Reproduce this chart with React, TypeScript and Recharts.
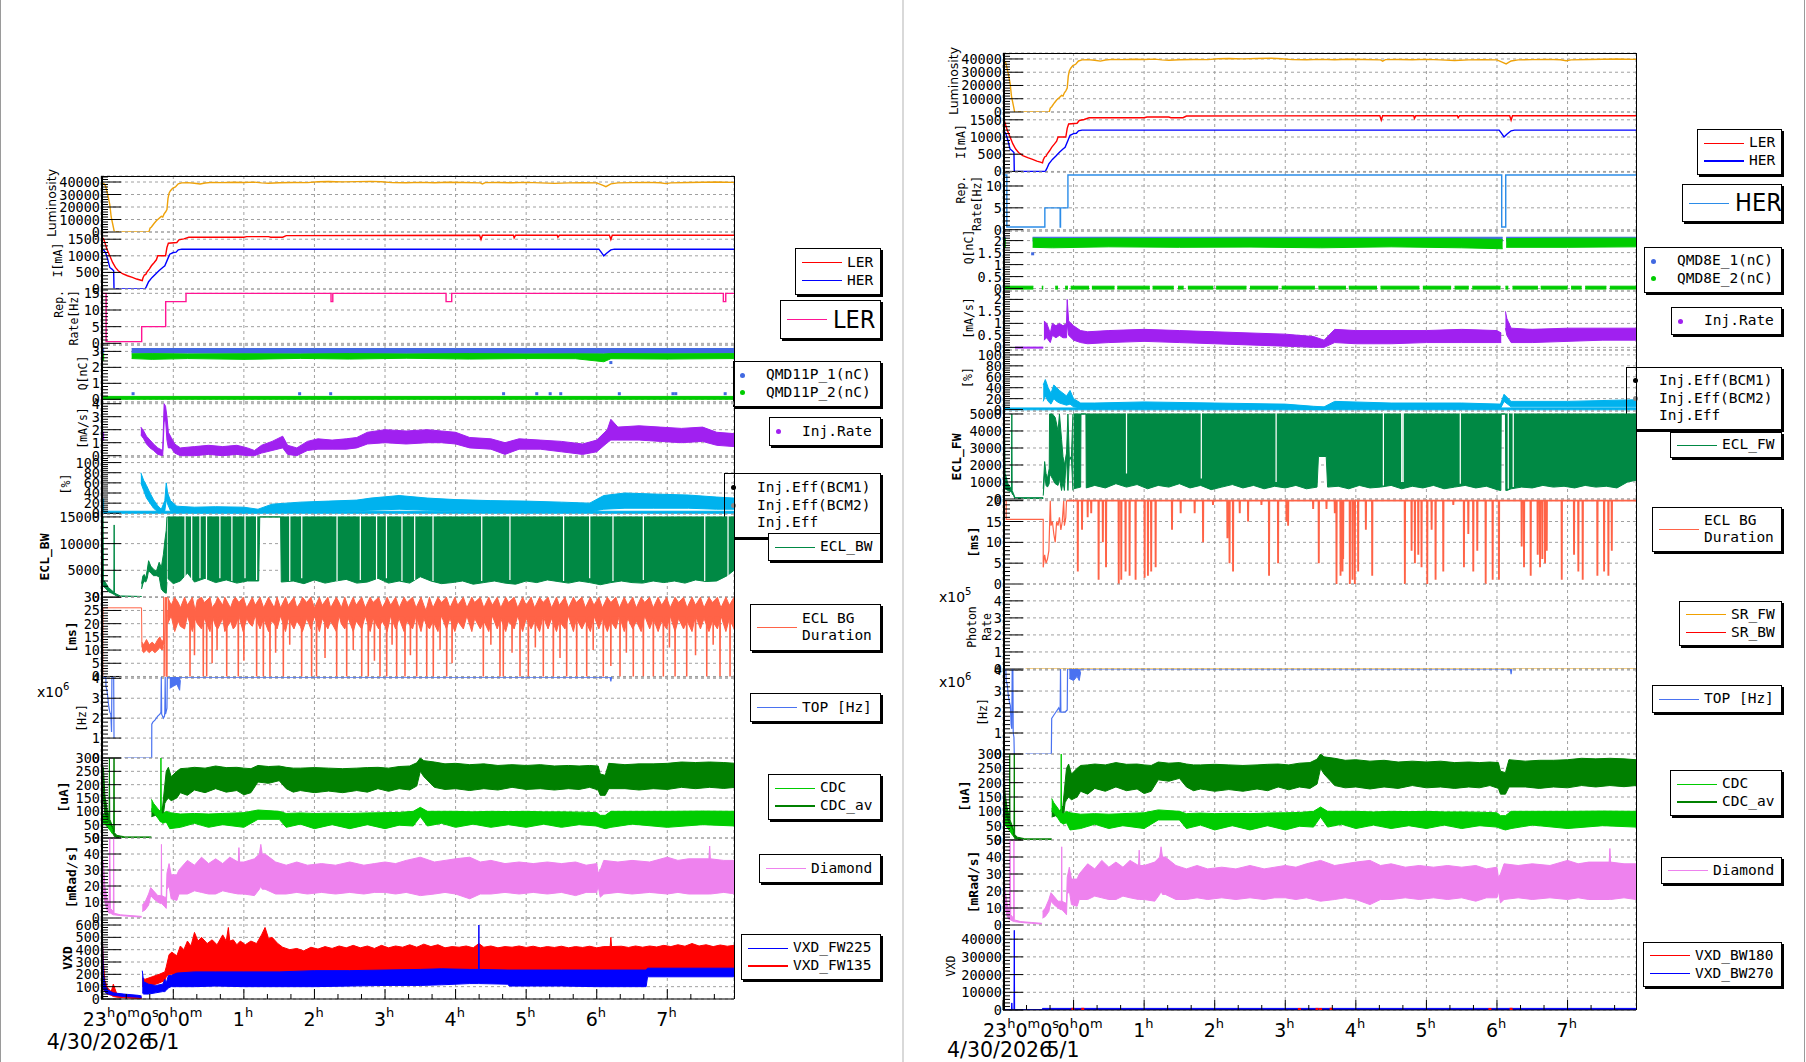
import React from "react";
import {
  ComposedChart,
  Line,
  Area,
  Scatter,
  XAxis,
  YAxis,
  CartesianGrid,
} from "recharts";

type Pt = [number, number];
type Band = [number, number, number];
type Span = [number, number];

// time is in hours relative to 5/1 00:00

// ---------- shared beam data
const lumi: Pt[] = [
  [-1.024, 39000], [-0.98, 38500], [-0.96, 37000], [-0.93, 30000], [-0.9, 22000],
  [-0.88, 12000], [-0.85, 4000], [-0.835, 0], [-0.345, 0], [-0.33, 3000],
  [-0.31, 4000], [-0.27, 7000], [-0.24, 9000], [-0.2, 11000], [-0.17, 12500],
  [-0.15, 12000], [-0.13, 14500], [-0.11, 16000], [-0.09, 18000], [-0.075, 27000],
  [-0.06, 31000], [-0.04, 33000], [-0.01, 35000], [0.03, 36000], [0.07, 38500],
  [0.12, 39300], [0.2, 39500], [0.3, 39000], [0.38, 38400], [0.45, 39200],
  [0.55, 39700], [0.7, 39500], [0.85, 39800], [1.0, 39600], [1.15, 39900],
  [1.25, 39300], [1.35, 39000], [1.5, 39400], [1.7, 39600], [1.9, 39500],
  [2.05, 40200], [2.2, 40400], [2.4, 40100], [2.6, 40300], [2.8, 40500],
  [2.95, 40200], [3.1, 39500], [3.3, 39400], [3.5, 39700], [3.7, 39400],
  [3.9, 39800], [4.1, 39600], [4.35, 39300], [4.38, 38400], [4.42, 39500],
  [4.6, 39600], [4.8, 39400], [5.0, 39700], [5.2, 39300], [5.4, 38900],
  [5.6, 39300], [5.8, 39500], [6.0, 39300], [6.08, 37500], [6.13, 36300],
  [6.2, 38500], [6.3, 39300], [6.5, 39500], [6.7, 39700], [6.9, 39400],
  [6.98, 38700], [7.05, 39300], [7.3, 39600], [7.5, 39800], [7.7, 40000], [7.97, 39700],
];

const lerCurrent: Pt[] = [
  [-1.024, 1550], [-0.99, 1520], [-0.97, 1400], [-0.94, 1200], [-0.9, 1000],
  [-0.86, 800], [-0.82, 650], [-0.78, 550], [-0.72, 460], [-0.65, 400],
  [-0.58, 350], [-0.52, 300], [-0.47, 270], [-0.44, 250], [-0.43, 330],
  [-0.41, 420], [-0.39, 440], [-0.37, 520], [-0.34, 600], [-0.31, 700],
  [-0.27, 800], [-0.24, 880], [-0.22, 1000], [-0.11, 1000], [-0.09, 1250],
  [-0.07, 1380], [0.05, 1400], [0.08, 1480], [0.15, 1510], [0.22, 1560],
  [1.0, 1560], [1.04, 1580], [1.35, 1580], [1.38, 1560], [1.55, 1560],
  [1.6, 1610], [4.34, 1620], [4.36, 1490], [4.38, 1620], [4.82, 1620],
  [4.83, 1540], [4.85, 1620], [5.44, 1620], [5.45, 1560], [5.47, 1620],
  [6.18, 1620], [6.2, 1490], [6.22, 1620], [7.97, 1620],
];

const herCurrent: Pt[] = [
  [-1.024, 1200], [-0.99, 1180], [-0.96, 1100], [-0.93, 900], [-0.9, 650],
  [-0.87, 600], [-0.845, 550], [-0.84, 0], [-0.4, 0], [-0.38, 80],
  [-0.35, 220], [-0.3, 350], [-0.25, 450], [-0.2, 560], [-0.15, 650],
  [-0.12, 700], [-0.08, 900], [-0.05, 1050], [0.0, 1100], [0.04, 1110],
  [0.07, 1180], [0.12, 1200], [6.03, 1200], [6.06, 1120], [6.1, 1000],
  [6.14, 1080], [6.2, 1180], [6.25, 1200], [7.97, 1200],
];

const lerRep: Pt[] = [
  [-1.024, 15], [-0.952, 0.5], [-0.448, 5], [-0.108, 12.5], [0.18, 15],
  [2.235, 12.5], [2.26, 15], [3.865, 12.5], [3.945, 15], [7.794, 12.5],
  [7.828, 15], [7.945, 15],
];

const herRep: Pt[] = [
  [-1.0, 12.5], [-0.946, 0.6], [-0.407, 5], [-0.19, 0.6], [-0.185, 5],
  [-0.08, 12.5], [6.067, 0.6], [6.124, 12.5], [7.97, 12.5],
];

// ---------- bunch charge
const qLerBlue: Band[][] = [
  [[-1.024, 2.9, 3.2], [-0.98, 2.9, 3.2]],
  [[-0.59, 2.9, 3.18], [2, 2.88, 3.18], [4, 2.88, 3.18], [6, 2.88, 3.18], [7.945, 2.9, 3.18]],
];
const qLerGreen: Band[][] = [
  [[-1.024, 2.45, 2.85], [-0.98, 2.45, 2.85]],
  [
    [-0.59, 2.55, 2.85], [-0.3, 2.5, 2.86], [0.2, 2.55, 2.84], [1.0, 2.5, 2.85],
    [1.8, 2.56, 2.84], [2.5, 2.52, 2.86], [3.3, 2.57, 2.84], [4.2, 2.52, 2.86],
    [5.0, 2.55, 2.84], [5.7, 2.54, 2.85], [6.1, 2.35, 2.84], [6.2, 2.54, 2.86],
    [7.0, 2.52, 2.85], [7.945, 2.55, 2.86],
  ],
  [[-1.024, 0, 0.18], [7.945, 0, 0.18]],
];
const qLerStray: Pt[] = [
  [-0.57, 0.35], [1.79, 0.35], [2.23, 0.35], [4.68, 0.35], [5.15, 0.35], [5.34, 0.35],
  [5.49, 0.35], [6.32, 0.35], [7.08, 0.35], [7.12, 0.35], [7.82, 0.35], [6.2, 2.3],
];

const qHerBlue: Band[][] = [
  [[-1.0, 1.95, 2.15], [-0.96, 1.95, 2.15]],
  [[-0.58, 1.98, 2.14], [6.08, 1.98, 2.14]],
  [[6.13, 1.98, 2.14], [7.97, 1.98, 2.14]],
];
const qHerGreen: Band[][] = [
  [[-1.0, 1.72, 2.08], [-0.96, 1.72, 2.08]],
  [
    [-0.58, 1.72, 2.1], [-0.3, 1.7, 2.08], [0.5, 1.74, 2.1], [1.5, 1.72, 2.08],
    [2.5, 1.73, 2.1], [3.5, 1.7, 2.08], [4.5, 1.74, 2.09], [5.5, 1.7, 2.08], [6.08, 1.66, 2.05],
  ],
  [[6.13, 1.72, 2.08], [7.0, 1.72, 2.1], [7.97, 1.74, 2.1]],
];
const qHerLowSpans: Span[] = [
  [-1.0, -0.57], [-0.45, -0.43], [-0.26, -0.22], [-0.12, -0.08], [-0.04, 0.22],
  [0.26, 0.58], [0.62, 1.08], [1.12, 1.42], [1.48, 1.56], [1.62, 1.98],
  [2.02, 2.45], [2.5, 2.9], [2.95, 3.42], [3.47, 3.86], [3.9, 4.3],
  [4.35, 4.9], [4.95, 5.35], [5.4, 5.6], [5.65, 6.05], [6.12, 6.16],
  [6.22, 6.58], [6.62, 7.0], [7.05, 7.2], [7.25, 7.55], [7.6, 7.97],
];
const qHerStray: Pt[] = [[-0.58, 1.45]];

// ---------- injection rate [mA/s]
const injLer: Band[][] = [
  [[-1.024, 1.2, 1.8], [-0.98, 1.2, 1.8]],
  [
    [-0.46, 1.6, 2.2], [-0.42, 1.3, 1.9], [-0.38, 0.9, 1.5], [-0.33, 0.6, 1.2],
    [-0.28, 0.4, 0.9], [-0.22, 0.1, 0.6], [-0.15, 0.0, 0.4], [-0.13, 2.6, 4.0],
    [-0.11, 2.8, 3.8], [-0.09, 1.2, 3.0], [-0.07, 0.6, 1.8], [-0.03, 0.6, 1.4],
    [0.02, 0.2, 0.9], [0.1, 0.0, 0.6], [0.3, 0.0, 0.7], [0.5, 0.1, 0.8],
    [0.7, 0.0, 0.7], [0.9, 0.1, 0.8], [1.05, 0.0, 0.6], [1.15, 0.0, 0.4],
    [1.25, 0.2, 0.8], [1.4, 0.4, 1.1], [1.55, 0.6, 1.5], [1.62, 0.1, 0.8],
    [1.75, 0.0, 0.6], [1.9, 0.4, 1.1], [2.05, 0.5, 1.3], [2.25, 0.5, 1.2],
    [2.45, 0.5, 1.3], [2.6, 0.6, 1.4], [2.75, 0.9, 1.8], [3.0, 1.0, 2.0],
    [3.3, 0.9, 1.9], [3.6, 1.0, 2.0], [3.8, 1.0, 1.9], [4.0, 0.9, 1.8],
    [4.2, 0.6, 1.4], [4.5, 0.5, 1.3], [4.7, 0.1, 1.0], [4.9, 0.5, 1.3],
    [5.2, 0.5, 1.2], [5.5, 0.3, 1.1], [5.8, 0.1, 0.9], [6.0, 0.3, 1.2],
    [6.15, 1.0, 2.0], [6.2, 1.2, 2.8], [6.3, 1.2, 2.2], [6.6, 1.2, 2.3],
    [6.9, 1.1, 2.2], [7.2, 1.0, 2.1], [7.5, 1.1, 2.2], [7.7, 0.8, 1.8], [7.945, 0.7, 1.7],
  ],
];

const injHer: Band[][] = [
  [[-1.0, 0.0, 0.35], [-0.97, 0.0, 0.35]],
  [[-0.83, -0.03, 0.01], [-0.43, -0.03, 0.01]],
  [
    [-0.42, 0.3, 1.1], [-0.38, 0.4, 1.0], [-0.33, 0.2, 0.6], [-0.3, 0.5, 1.0],
    [-0.25, 0.4, 0.9], [-0.2, 0.5, 1.0], [-0.15, 0.4, 0.9], [-0.1, 0.4, 1.0],
    [-0.09, 1.0, 2.0], [-0.07, 0.5, 1.1], [0.0, 0.3, 0.9], [0.1, 0.2, 0.7],
    [0.2, 0.15, 0.65], [0.5, 0.2, 0.7], [1.0, 0.25, 0.75], [1.5, 0.2, 0.7],
    [2.0, 0.15, 0.65], [2.5, 0.1, 0.6], [3.0, 0.05, 0.55], [3.4, 0.0, 0.45],
    [3.55, 0.0, 0.3], [3.7, 0.2, 0.75], [4.0, 0.15, 0.7], [4.5, 0.15, 0.7],
    [5.0, 0.2, 0.7], [5.5, 0.2, 0.75], [6.0, 0.2, 0.7], [6.06, 0.2, 0.6],
  ],
  [
    [6.12, 0.8, 1.5], [6.14, 0.5, 1.2], [6.2, 0.2, 0.8], [6.5, 0.2, 0.75],
    [7.0, 0.25, 0.8], [7.5, 0.3, 0.8], [7.97, 0.3, 0.8],
  ],
];

// ---------- injection efficiency [%]
const effLer: Band[][] = [
  [[-1.024, 0, 4], [7.945, 0, 4]],
  [[-1.024, 5, 28], [-0.98, 5, 28]],
  [
    [-0.46, 60, 80], [-0.42, 45, 65], [-0.38, 30, 55], [-0.33, 20, 40],
    [-0.28, 10, 27], [-0.22, 3, 15], [-0.17, 1, 8], [-0.12, 5, 25],
    [-0.1, 27, 60], [-0.08, 18, 40], [-0.04, 5, 25], [0.05, 3, 14],
    [0.3, 1, 12], [0.6, 1, 13], [1.0, 1, 12], [1.2, 1, 8],
    [1.4, 3, 18], [1.8, 4, 22], [2.2, 4, 24], [2.6, 5, 26],
    [2.8, 6, 30], [3.2, 8, 35], [3.6, 6, 30], [4.0, 5, 27],
    [4.5, 4, 25], [5.0, 4, 24], [5.5, 3, 22], [5.9, 3, 20],
    [6.1, 8, 35], [6.4, 10, 40], [6.8, 10, 38], [7.3, 10, 36],
    [7.7, 8, 32], [7.945, 8, 30],
  ],
];

const effHer: Band[][] = [
  [[-1.0, -0.5, 3], [7.97, -0.5, 3]],
  [[-1.0, 0, 10], [-0.97, 0, 10]],
  [
    [-0.43, 15, 45], [-0.4, 25, 55], [-0.36, 15, 40], [-0.32, 10, 30],
    [-0.28, 20, 45], [-0.24, 15, 40], [-0.2, 12, 35], [-0.15, 10, 30],
    [-0.1, 8, 25], [-0.05, 10, 35], [0.0, 5, 20], [0.1, 3, 12],
    [0.3, 2, 12], [1.0, 2, 14], [2.0, 2, 12], [3.0, 2, 10],
    [3.4, 0, 6], [3.55, 0, 5], [3.7, 3, 15], [4.5, 2, 12],
    [5.5, 2, 12], [6.05, 2, 10], [6.1, 15, 28], [6.2, 5, 15],
    [7.0, 5, 15], [7.97, 5, 18],
  ],
];

// ---------- ECL background
const eclBw: Band[][] = [
  [
    [-1.024, 3000, 15000], [-0.995, 2500, 15000], [-0.99, 2000, 3200], [-0.95, 1500, 2500],
    [-0.92, 1000, 1800], [-0.87, 700, 1200], [-0.842, 500, 900], [-0.838, 500, 13500],
    [-0.834, 400, 800], [-0.8, 200, 500], [-0.75, 0, 200], [-0.45, 0, 100],
  ],
  [
    [-0.45, 1500, 2500], [-0.43, 2500, 4000], [-0.41, 3000, 4200], [-0.39, 2800, 3500],
    [-0.37, 3500, 5000], [-0.35, 5000, 6800], [-0.32, 4500, 5800], [-0.28, 4000, 5200],
    [-0.24, 4000, 4800], [-0.2, 3800, 6500], [-0.17, 1500, 5500], [-0.14, 1000, 8000],
    [-0.12, 800, 10500], [-0.1, 700, 12500], [-0.09, 2800, 15000],
  ],
  [
    [-0.08, 3500, 15000], [0.0, 2500, 15000], [0.1, 3000, 15000], [0.2, 4500, 15000],
    [0.3, 2800, 15000], [0.45, 3500, 15000], [0.6, 2700, 15000], [0.75, 3200, 15000],
    [0.9, 2600, 15000], [1.05, 3000, 15000], [1.21, 3000, 15000], [1.225, 15000, 15000],
    [1.52, 15000, 15000], [1.53, 2800, 15000], [1.7, 3000, 15000], [1.85, 2500, 15000],
    [2.0, 3200, 15000], [2.15, 2600, 15000], [2.3, 3000, 15000], [2.45, 3300, 15000],
    [2.6, 2600, 15000], [2.75, 2800, 15000], [2.9, 3500, 15000], [3.05, 2600, 15000],
    [3.2, 3000, 15000], [3.35, 2600, 15000], [3.5, 3800, 15000], [3.65, 3000, 15000],
    [3.8, 2500, 15000], [3.95, 2700, 15000], [4.1, 3000, 15000], [4.25, 2400, 15000],
    [4.4, 2700, 15000], [4.55, 3000, 15000], [4.7, 2600, 15000], [4.85, 2400, 15000],
    [5.0, 3000, 15000], [5.15, 2700, 15000], [5.3, 3200, 15000], [5.45, 2900, 15000],
    [5.6, 2600, 15000], [5.75, 3000, 15000], [5.9, 2700, 15000], [6.05, 2300, 15000],
    [6.2, 2700, 15000], [6.35, 3000, 15000], [6.5, 2700, 15000], [6.65, 2600, 15000],
    [6.8, 3000, 15000], [6.95, 2700, 15000], [7.1, 3000, 15000], [7.25, 2600, 15000],
    [7.4, 3200, 15000], [7.55, 2900, 15000], [7.7, 3000, 15000], [7.85, 4000, 15000],
    [7.945, 5000, 15000],
  ],
];
const eclBwGaps: Pt[] = [
  [0.166, 3500], [0.26, 3000], [0.378, 3500], [0.47, 3000], [0.66, 3500],
  [0.83, 3000], [1.016, 3500], [1.18, 3200], [1.65, 3000], [1.82, 3500],
  [2.32, 3000], [2.65, 3200], [2.88, 3000], [3.02, 3500], [3.24, 3000],
  [3.42, 3200], [3.68, 3000], [4.37, 3000], [4.77, 3200], [5.53, 3000],
  [5.9, 3500], [6.23, 3000], [6.66, 3200], [7.53, 3000], [7.86, 3500],
];

const eclFw: Band[][] = [
  [
    [-1.0, 1000, 5000], [-0.98, 800, 5000], [-0.97, 600, 1500], [-0.93, 500, 900],
    [-0.9, 450, 700], [-0.88, 400, 600], [-0.875, 400, 5000], [-0.87, 300, 500],
    [-0.85, 200, 300], [-0.83, 0, 80], [-0.43, 0, 80],
  ],
  [
    [-0.43, 200, 600], [-0.41, 1500, 2200], [-0.39, 800, 1500], [-0.37, 700, 1200],
    [-0.345, 900, 1800], [-0.34, 1500, 5000], [-0.3, 1200, 5000], [-0.26, 900, 4800],
    [-0.22, 800, 4000], [-0.2, 1200, 5000], [-0.17, 500, 3500], [-0.15, 1000, 2500],
    [-0.13, 500, 2000], [-0.1, 2600, 2700], [-0.08, 500, 5000], [-0.06, 2300, 2400],
    [-0.03, 2400, 2500], [-0.01, 500, 5000],
  ],
  [
    [0.0, 600, 5000], [0.1, 700, 5000], [0.105, 5000, 5000], [0.175, 5000, 5000],
    [0.18, 650, 5000], [0.3, 800, 5000], [0.45, 650, 5000], [0.6, 900, 5000],
    [0.75, 700, 5000], [0.9, 850, 5000], [1.05, 600, 5000], [1.2, 800, 5000],
    [1.35, 700, 5000], [1.5, 900, 5000], [1.65, 650, 5000], [1.8, 800, 5000],
    [1.95, 550, 5000], [2.1, 700, 5000], [2.25, 850, 5000], [2.4, 650, 5000],
    [2.55, 800, 5000], [2.7, 600, 5000], [2.85, 750, 5000], [3.0, 650, 5000],
    [3.15, 800, 5000], [3.3, 600, 5000], [3.45, 700, 5000], [3.47, 2500, 5000],
    [3.58, 2500, 5000], [3.6, 700, 5000], [3.75, 750, 5000], [3.9, 600, 5000],
    [4.05, 800, 5000], [4.2, 650, 5000], [4.35, 700, 5000], [4.5, 800, 5000],
    [4.65, 600, 5000], [4.8, 750, 5000], [4.95, 650, 5000], [5.1, 800, 5000],
    [5.25, 600, 5000], [5.4, 700, 5000], [5.55, 800, 5000], [5.7, 650, 5000],
    [5.85, 750, 5000], [6.0, 550, 5000], [6.055, 500, 5000], [6.06, 5000, 5000],
    [6.12, 5000, 5000], [6.125, 500, 5000], [6.14, 500, 5000], [6.2, 600, 5000],
    [6.35, 700, 5000], [6.5, 650, 5000], [6.65, 800, 5000], [6.8, 700, 5000],
    [6.95, 750, 5000], [7.1, 650, 5000], [7.25, 800, 5000], [7.4, 700, 5000],
    [7.55, 750, 5000], [7.7, 650, 5000], [7.85, 1000, 5000], [7.97, 1100, 5000],
  ],
];
const eclFwGaps: Pt[] = [
  [0.75, 1500], [1.81, 1200], [2.87, 1000], [4.39, 800], [4.65, 1000],
  [4.67, 1000], [5.48, 900], [6.16, 600], [6.23, 700],
];

// ECL BG duration [ms]
const eclBgLerStart: Pt[] = [
  [-1.024, 20], [-1.015, 28], [-1.005, 18], [-1.0, 0], [-0.995, 26], [-0.45, 26], [-0.445, 11],
];
const eclBgLerPre: Band[] = [
  [-0.445, 10, 13], [-0.42, 9, 12], [-0.38, 10, 14], [-0.34, 9, 12], [-0.3, 10, 13],
  [-0.26, 9, 12], [-0.22, 10, 14], [-0.19, 11, 15], [-0.16, 10, 13], [-0.14, 11, 14],
];
const eclBgLerSpikes: Pt[] = [
  [-0.14, 12], [-0.135, 30], [-0.13, 0], [-0.125, 12], [-0.11, 30], [-0.1, 0],
  [-0.095, 30], [-0.09, 0], [-0.085, 25],
];
const eclBgLerMain: Band[] = [
  [-0.08, 20, 30], [-0.03, 23, 27], [0.02, 17, 30], [0.07, 21, 28], [0.1, 19, 26],
  [0.16, 18, 30], [0.2, 23, 27], [0.27, 17, 30], [0.31, 22, 25], [0.34, 20, 29],
  [0.4, 18, 30], [0.44, 22, 28], [0.52, 17, 30], [0.55, 23, 26], [0.6, 19, 28],
  [0.63, 18, 30], [0.7, 22, 27], [0.73, 17, 30], [0.81, 21, 26], [0.85, 18, 29],
  [0.88, 19, 30], [0.93, 23, 28], [0.99, 17, 30], [1.04, 22, 26], [1.08, 20, 28],
  [1.12, 19, 30], [1.16, 23, 27], [1.23, 18, 30], [1.28, 22, 26], [1.35, 17, 30],
  [1.39, 21, 28], [1.43, 20, 26], [1.47, 18, 30], [1.52, 23, 26], [1.59, 17, 30],
  [1.63, 22, 27], [1.71, 18, 30], [1.75, 21, 26], [1.8, 19, 28], [1.83, 17, 30],
  [1.89, 22, 28], [1.95, 18, 30], [2.0, 23, 26], [2.07, 17, 30], [2.11, 22, 27],
  [2.19, 18, 30], [2.23, 21, 26], [2.31, 17, 30], [2.35, 23, 28], [2.38, 20, 26],
  [2.43, 18, 30], [2.48, 22, 26], [2.55, 17, 30], [2.59, 21, 27], [2.67, 18, 30],
  [2.72, 23, 26], [2.79, 17, 30], [2.83, 22, 28], [2.91, 18, 30], [2.96, 21, 26],
  [3.0, 19, 28], [3.03, 17, 30], [3.08, 23, 27], [3.15, 18, 30], [3.2, 22, 26],
  [3.27, 17, 30], [3.31, 21, 28], [3.39, 18, 30], [3.44, 23, 26], [3.51, 17, 30],
  [3.55, 22, 27], [3.58, 20, 25], [3.63, 18, 30], [3.68, 21, 26], [3.75, 17, 30],
  [3.8, 23, 28], [3.87, 18, 30], [3.92, 22, 26], [3.99, 17, 30], [4.03, 21, 27],
  [4.11, 18, 30], [4.16, 23, 26], [4.23, 17, 30], [4.27, 22, 28], [4.35, 18, 30],
  [4.4, 21, 26], [4.47, 17, 30], [4.52, 23, 27], [4.59, 18, 30], [4.64, 22, 26],
  [4.71, 17, 30], [4.75, 21, 28], [4.83, 18, 30], [4.88, 23, 26], [4.95, 17, 30],
  [5.0, 22, 27], [5.07, 18, 30], [5.12, 21, 26], [5.19, 17, 30], [5.24, 23, 28],
  [5.31, 18, 30], [5.36, 22, 26], [5.43, 17, 30], [5.47, 21, 27], [5.55, 18, 30],
  [5.6, 23, 26], [5.67, 17, 30], [5.71, 22, 28], [5.79, 18, 30], [5.84, 21, 26],
  [5.91, 17, 30], [5.96, 23, 27], [6.03, 18, 30], [6.08, 22, 26], [6.15, 17, 30],
  [6.2, 21, 28], [6.27, 18, 30], [6.32, 23, 26], [6.39, 17, 30], [6.44, 22, 27],
  [6.51, 18, 30], [6.56, 21, 26], [6.63, 17, 30], [6.68, 23, 28], [6.75, 18, 30],
  [6.8, 22, 26], [6.87, 17, 30], [6.92, 21, 27], [6.99, 18, 30], [7.04, 23, 26],
  [7.11, 17, 30], [7.16, 22, 28], [7.23, 18, 30], [7.28, 21, 26], [7.35, 17, 30],
  [7.4, 23, 27], [7.47, 18, 30], [7.52, 22, 26], [7.59, 17, 30], [7.64, 21, 28],
  [7.71, 18, 30], [7.76, 23, 26], [7.83, 17, 30], [7.88, 22, 27], [7.945, 18, 30],
];
const eclBgLerDips: Pt[] = [
  [0.237, 0], [0.3, 8], [0.425, 0], [0.473, 0], [0.55, 5], [0.62, 10], [0.757, 0],
  [0.921, 0], [1.0, 6], [1.181, 0], [1.276, 0], [1.37, 0], [1.45, 9], [1.559, 0],
  [1.65, 12], [1.819, 0], [1.96, 0], [2.03, 0], [2.15, 7], [2.315, 0], [2.457, 0],
  [2.55, 10], [2.67, 0], [2.763, 0], [2.85, 6], [2.929, 0], [3.024, 0], [3.1, 12],
  [3.165, 0], [3.283, 0], [3.36, 8], [3.449, 0], [3.591, 0], [3.684, 0], [3.78, 10],
  [3.874, 0], [3.95, 5], [4.393, 0], [4.5, 12], [4.629, 0], [4.676, 0], [4.8, 9],
  [4.913, 0], [5.031, 0], [5.13, 11], [5.243, 0], [5.385, 0], [5.48, 7], [5.574, 0],
  [5.716, 0], [5.858, 0], [5.95, 10], [6.093, 0], [6.2, 4], [6.33, 0], [6.42, 9],
  [6.518, 0], [6.66, 0], [6.802, 0], [6.944, 0], [7.03, 11], [7.11, 0], [7.275, 0],
  [7.4, 8], [7.559, 0], [7.65, 12], [7.747, 0], [7.889, 0],
];

const eclBgHerStart: Pt[] = [
  [-1.0, 20], [-0.955, 20], [-0.955, 15.5], [-0.43, 15.5], [-0.43, 4], [-0.41, 7],
  [-0.39, 5], [-0.37, 6], [-0.35, 8], [-0.33, 20], [-0.32, 14], [-0.3, 15],
  [-0.28, 12], [-0.26, 10], [-0.24, 15], [-0.22, 14], [-0.2, 16], [-0.18, 13],
  [-0.16, 15], [-0.14, 20], [-0.13, 14], [-0.11, 16], [-0.1, 20],
];
const eclBgHerDips: Pt[] = [
  [0.06, 3], [0.12, 13], [0.2, 16], [0.25, 17], [0.355, 1], [0.415, 10], [0.46, 4],
  [0.64, 0], [0.676, 1], [0.737, 3], [0.794, 2], [0.879, 1], [1.007, 1.5], [1.054, 2],
  [1.1, 3], [1.163, 4], [1.395, 13], [1.518, 17], [1.716, 17], [1.835, 10], [1.976, 19],
  [2.18, 11], [2.21, 5], [2.26, 3], [2.355, 17], [2.473, 15], [2.662, 19], [2.77, 2],
  [2.898, 5], [3.017, 15], [3.04, 14], [3.395, 18], [3.475, 5], [3.584, 18], [3.702, 17],
  [3.726, 0], [3.783, 2], [3.811, 3], [3.82, 6], [3.915, 0], [3.953, 1], [3.986, 0],
  [4.033, 3], [4.142, 13], [4.232, 2], [4.695, 0], [4.79, 8], [4.837, 5], [4.885, 7],
  [4.931, 4], [5.012, 0], [5.074, 13], [5.13, 1], [5.239, 3], [5.381, 19], [5.532, 4],
  [5.594, 12], [5.664, 3], [5.721, 8], [5.84, 0], [5.939, 1], [6.028, 1], [6.35, 9],
  [6.383, 4], [6.478, 2], [6.577, 7], [6.61, 4], [6.643, 6], [6.681, 5], [6.705, 8],
  [6.918, 1], [7.092, 7], [7.153, 3], [7.215, 1], [7.423, 2], [7.518, 3], [7.579, 2],
  [7.627, 8],
];

// synchrotron radiation photon rate (x1e5)
const srFw: Pt[] = [[-0.68, 0], [7.97, 0]];

// ---------- TOP rate (x1e6 Hz)
const topLer: Pt[][] = [
  [
    [-1.024, 4.06], [-0.955, 4.06], [-0.955, 3.6], [-0.94, 3.4], [-0.93, 3.1],
    [-0.915, 2.6], [-0.9, 2.3], [-0.885, 2.2], [-0.875, 1.3], [-0.87, 4.06],
    [-0.845, 4.06], [-0.84, 1.0],
  ],
  [
    [-0.694, 0], [-0.306, 0], [-0.305, 1.7], [-0.29, 1.8], [-0.26, 1.9], [-0.22, 2.1],
    [-0.19, 2.2], [-0.175, 2.3], [-0.17, 4.06], [-0.165, 2.2], [-0.14, 2.0],
    [-0.125, 2.1], [-0.12, 2.3], [-0.115, 4.06], [-0.11, 2.2], [-0.09, 2.5],
    [-0.085, 4.06], [6.19, 4.06], [6.2, 3.85], [6.21, 4.06], [6.22, 4.06],
  ],
];
const topLerBlob: Band[] = [
  [-0.05, 3.5, 4.06], [0.0, 3.6, 4.06], [0.05, 3.7, 4.06], [0.09, 3.4, 4.0], [0.1, 3.9, 4.06],
];
const topHer: Pt[][] = [
  [
    [-1.0, 4.05], [-0.96, 4.05], [-0.955, 3.5], [-0.94, 3.3], [-0.925, 2.8],
    [-0.91, 2.5], [-0.895, 2.3], [-0.885, 1.4], [-0.875, 1.2], [-0.87, 4.05],
    [-0.86, 4.05], [-0.855, 1.0], [-0.845, 0.8], [-0.84, 0],
  ],
  [
    [-0.68, 0], [-0.315, 0], [-0.31, 1.7], [-0.29, 1.8], [-0.25, 2.0], [-0.21, 2.2],
    [-0.19, 2.0], [-0.185, 4.05], [-0.18, 2.0], [-0.12, 2.0], [-0.09, 2.1],
    [-0.085, 4.05], [6.19, 4.05], [6.2, 3.8], [6.21, 4.05],
  ],
];
const topHerBlob: Band[] = [
  [-0.06, 3.6, 4.05], [0.0, 3.5, 4.05], [0.05, 3.7, 4.05], [0.08, 3.5, 4.0], [0.1, 3.9, 4.05],
];

// ---------- CDC current [uA]
const cdcAv: Band[][] = [
  [
    [-1.024, 200, 270], [-0.99, 150, 265], [-0.97, 90, 160], [-0.94, 60, 110],
    [-0.91, 45, 80], [-0.905, 45, 300], [-0.9, 40, 70], [-0.87, 25, 50],
    [-0.845, 10, 30], [-0.84, 10, 300], [-0.835, 5, 20], [-0.8, 3, 10], [-0.7, 2, 5],
  ],
  [[-0.7, 2, 4], [-0.31, 2, 4]],
  [
    [-0.31, 80, 110], [-0.25, 85, 105], [-0.2, 80, 100], [-0.17, 60, 110],
    [-0.15, 70, 120], [-0.12, 130, 200], [-0.1, 140, 250], [-0.07, 150, 265],
    [-0.03, 140, 230], [0.05, 150, 250], [0.1, 170, 260], [0.2, 160, 262],
    [0.3, 180, 265], [0.45, 170, 262], [0.6, 185, 270], [0.75, 172, 264],
    [0.9, 178, 265], [1.0, 162, 262], [1.1, 170, 260], [1.2, 210, 272],
    [1.35, 205, 268], [1.5, 215, 270], [1.6, 185, 265], [1.7, 172, 262],
    [1.8, 178, 262], [2.0, 170, 264], [2.2, 176, 262], [2.4, 170, 260],
    [2.6, 178, 262], [2.75, 172, 264], [2.9, 185, 265], [3.05, 175, 262],
    [3.2, 185, 268], [3.35, 180, 270], [3.45, 195, 282], [3.5, 250, 300],
    [3.55, 230, 290], [3.7, 190, 285], [3.85, 182, 278], [4.0, 185, 280],
    [4.2, 178, 275], [4.4, 185, 278], [4.6, 180, 272], [4.8, 190, 275],
    [5.0, 182, 272], [5.2, 185, 275], [5.4, 180, 270], [5.6, 185, 272],
    [5.75, 182, 270], [5.9, 190, 272], [6.02, 180, 270], [6.05, 160, 240],
    [6.12, 160, 235], [6.17, 185, 280], [6.4, 185, 275], [6.6, 180, 278],
    [6.8, 185, 278], [7.0, 182, 280], [7.2, 190, 285], [7.4, 185, 283],
    [7.6, 190, 285], [7.8, 186, 283], [7.97, 190, 280],
  ],
];
const cdc: Band[][] = [
  [
    [-1.024, 60, 95], [-0.99, 55, 90], [-0.96, 50, 80], [-0.93, 40, 60],
    [-0.9, 30, 50], [-0.86, 15, 30],
  ],
  [
    [-0.31, 100, 145], [-0.28, 95, 130], [-0.22, 75, 110], [-0.18, 60, 95],
    [-0.175, 60, 300], [-0.17, 60, 95], [-0.15, 55, 90], [-0.1, 60, 100],
    [-0.05, 35, 95], [0.1, 40, 90], [0.3, 55, 92], [0.5, 40, 90],
    [0.7, 50, 92], [1.0, 40, 95], [1.2, 70, 105], [1.5, 70, 100],
    [1.6, 40, 92], [1.8, 52, 94], [2.0, 35, 92], [2.25, 50, 93],
    [2.5, 35, 92], [2.75, 50, 94], [3.0, 35, 95], [3.2, 48, 96],
    [3.4, 45, 100], [3.5, 80, 115], [3.6, 45, 100], [3.8, 55, 100],
    [4.0, 40, 100], [4.25, 52, 98], [4.5, 40, 100], [4.75, 50, 99],
    [5.0, 40, 100], [5.25, 52, 98], [5.5, 40, 98], [5.75, 50, 97],
    [6.0, 45, 95], [6.05, 40, 85], [6.12, 35, 85], [6.2, 40, 100],
    [6.5, 52, 100], [7.0, 40, 100], [7.5, 50, 101], [7.97, 45, 100],
  ],
];

// ---------- diamond dose rate [mRad/s]
const diamond: Band[][] = [
  [
    [-1.024, 18, 38], [-0.99, 15, 35], [-0.97, 10, 20], [-0.94, 5, 12],
    [-0.91, 3, 8], [-0.9, 3, 50], [-0.89, 3, 6], [-0.85, 2, 4],
    [-0.845, 2, 50], [-0.84, 2, 3], [-0.75, 1.5, 2], [-0.6, 1, 1.5], [-0.45, 0.5, 1],
  ],
  [
    [-0.44, 4, 8], [-0.4, 5, 10], [-0.35, 8, 15], [-0.32, 14, 19],
    [-0.28, 12, 17], [-0.22, 10, 14], [-0.18, 9, 14], [-0.172, 9, 14], [-0.168, 9, 46],
    [-0.164, 9, 14], [-0.12, 7, 13], [-0.1, 6, 13], [-0.09, 18, 28],
    [-0.06, 20, 34], [-0.03, 12, 27], [0.05, 11, 27], [0.08, 15, 30],
    [0.2, 15, 36], [0.3, 17, 33], [0.4, 16, 38], [0.5, 15, 34], [0.6, 15, 37],
    [0.7, 17, 34], [0.8, 16, 38], [0.92, 15, 35], [0.93, 15, 44], [0.94, 15, 35],
    [1.0, 15, 35], [1.15, 14, 37], [1.22, 18, 40], [1.24, 20, 46], [1.26, 18, 40],
    [1.3, 18, 40], [1.45, 15, 35], [1.6, 15, 33], [1.75, 16, 35],
    [1.9, 15, 33], [2.1, 16, 34], [2.3, 15, 33], [2.5, 16, 35], [2.7, 15, 33],
    [2.85, 16, 34], [3.0, 16, 35], [3.15, 15, 34], [3.3, 16, 36], [3.5, 14, 38],
    [3.7, 15, 35], [3.85, 16, 36], [4.0, 15, 37], [4.2, 12, 38], [4.35, 15, 35],
    [4.5, 15, 36], [4.7, 16, 34], [4.9, 15, 35], [5.1, 16, 34], [5.3, 15, 35],
    [5.5, 16, 34], [5.7, 14, 35], [5.85, 16, 33], [6.0, 16, 34], [6.02, 20, 28],
    [6.05, 13, 30], [6.1, 15, 36], [6.3, 16, 35], [6.5, 15, 36], [6.75, 16, 35],
    [7.0, 15, 38], [7.15, 16, 36], [7.3, 15, 37], [7.59, 15, 37], [7.6, 15, 45],
    [7.61, 15, 37], [7.8, 16, 36], [7.97, 15, 36],
  ],
];

// ---------- VXD dose
const vxdFw135: Band[][] = [
  [
    [-1.024, 150, 450], [-1.01, 100, 550], [-0.99, 80, 300], [-0.97, 60, 150],
    [-0.93, 40, 90], [-0.88, 30, 60], [-0.85, 20, 120], [-0.8, 15, 40],
    [-0.7, 10, 25], [-0.5, 5, 15], [-0.45, 5, 15],
  ],
  [
    [-0.44, 100, 170], [-0.4, 100, 160], [-0.3, 110, 180], [-0.2, 130, 200],
    [-0.12, 150, 220], [-0.1, 180, 260], [-0.06, 200, 360], [-0.02, 200, 380],
    [0.05, 200, 350], [0.1, 200, 430], [0.15, 200, 400], [0.2, 200, 470],
    [0.25, 200, 430], [0.3, 200, 540], [0.35, 200, 470], [0.4, 200, 500],
    [0.48, 200, 450], [0.55, 200, 480], [0.62, 200, 440], [0.7, 200, 520],
    [0.75, 200, 470], [0.78, 200, 580], [0.8, 200, 470], [0.85, 200, 480],
    [0.9, 200, 440], [0.95, 200, 470], [1.02, 200, 440], [1.1, 200, 470],
    [1.18, 200, 450], [1.25, 200, 520], [1.3, 200, 580], [1.35, 200, 490],
    [1.4, 200, 500], [1.48, 200, 450], [1.55, 200, 420], [1.65, 200, 400],
    [1.75, 200, 410], [1.85, 200, 390], [1.95, 200, 420], [2.05, 200, 405],
    [2.15, 200, 425], [2.25, 200, 410], [2.35, 200, 430], [2.45, 200, 415],
    [2.55, 200, 435], [2.65, 200, 415], [2.75, 200, 430], [2.85, 200, 410],
    [2.95, 200, 435], [3.05, 200, 415], [3.15, 200, 430], [3.25, 200, 420],
    [3.35, 200, 440], [3.45, 200, 420], [3.55, 200, 445], [3.65, 200, 425],
    [3.75, 200, 440], [3.85, 200, 415], [3.95, 200, 425], [4.05, 200, 420],
    [4.15, 200, 430], [4.25, 200, 415], [4.33, 200, 450], [4.4, 200, 420],
    [4.5, 200, 430], [4.6, 200, 415], [4.7, 200, 425], [4.8, 200, 420],
    [4.9, 200, 430], [5.0, 200, 418], [5.1, 200, 428], [5.2, 200, 415],
    [5.3, 200, 425], [5.4, 200, 418], [5.5, 200, 428], [5.6, 200, 415],
    [5.7, 200, 425], [5.8, 200, 418], [5.9, 200, 428], [6.0, 200, 415],
    [6.1, 200, 425], [6.19, 200, 425], [6.2, 200, 500], [6.21, 200, 425],
    [6.35, 200, 428], [6.45, 200, 418], [6.55, 200, 430], [6.65, 200, 420],
    [6.75, 200, 430], [6.85, 200, 422], [6.95, 200, 435], [7.05, 200, 425],
    [7.15, 200, 440], [7.25, 200, 428], [7.35, 200, 450], [7.45, 200, 430],
    [7.55, 200, 440], [7.65, 200, 425], [7.75, 200, 438], [7.85, 200, 428],
    [7.945, 200, 435],
  ],
];
const vxdFw225: Band[][] = [
  [
    [-1.024, 150, 200], [-1.01, 100, 600], [-0.99, 80, 200], [-0.96, 50, 100],
    [-0.92, 40, 70], [-0.85, 30, 50], [-0.7, 20, 40], [-0.5, 15, 30], [-0.45, 10, 25],
  ],
  [
    [-0.44, 50, 230], [-0.42, 40, 140], [-0.35, 40, 120], [-0.25, 50, 110],
    [-0.15, 60, 120], [-0.12, 60, 160], [-0.1, 70, 130], [-0.07, 90, 190],
    [-0.03, 100, 190], [0.05, 100, 210], [0.3, 100, 220], [0.6, 105, 220],
    [1.0, 100, 220], [1.5, 100, 220], [2.0, 100, 230], [2.5, 105, 230],
    [3.0, 110, 235], [3.5, 110, 240], [3.8, 115, 245], [4.2, 125, 240],
    [4.325, 125, 240], [4.33, 125, 600], [4.335, 125, 240], [4.74, 120, 235],
    [4.76, 105, 235], [5.5, 105, 235], [6.0, 100, 235], [6.7, 100, 235],
    [6.72, 180, 250], [7.945, 180, 250],
  ],
];
const vxdBw270: Band[] = [
  [-1.0, 0, 200], [-0.88, 0, 200], [-0.875, 0, 4000], [-0.87, 0, 200],
  [-0.845, 0, 200], [-0.84, 0, 45000], [-0.835, 0, 200], [-0.45, 0, 200],
  [-0.44, 0, 900], [7.97, 0, 900],
];
const vxdBw180: Pt[] = [
  [-0.01, 400], [0.13, 400], [3.2, 300], [3.45, 350], [3.5, 300], [3.65, 400],
  [5.9, 300], [6.2, 400],
];

// ---------- axis ticks and labels
const HOURS = [-1, 0, 1, 2, 3, 4, 5, 6, 7];
const HOUR_PARTS: Record<number, [string, string][]> = {
  [-1]: [["23", "h"], ["0", "m"], ["0", "s"]],
  [0]: [["0", "h"], ["0", "m"]],
};
const DATE_LABELS: Record<number, string> = { [-1]: "4/30/2026", [0]: "5/1" };

const COLOR = {
  lumi: "#eea20a",
  ler: "#ff0000",
  her: "#0000ff",
  repLer: "#ff1493",
  repHer: "#2b8ce8",
  qBlue: "#4169e1",
  qGreen: "#00cc00",
  inj: "#a020f0",
  eff: "#00b2ee",
  ecl: "#008944",
  eclBg: "#ff6347",
  top: "#4a72f0",
  cdc: "#00cc00",
  cdcAv: "#008000",
  diamond: "#ee82ee",
  srFw: "#f0a000",
  srBw: "#ff0000",
};

const MONO = "'DejaVu Sans Mono', monospace";
const SANS = "'DejaVu Sans', sans-serif";

type Series =
  | { kind: "line"; data: Pt[]; color: string; width?: number; step?: boolean }
  | { kind: "band"; data: Band[]; color: string }
  | { kind: "dots"; data: Pt[]; color: string; size?: number };

interface PanelSpec {
  top: number;
  bottom: number;
  domain: [number, number];
  major: number[];
  minor: number;
  dashedBase?: boolean;
  series: Series[];
}

interface ColumnSpec {
  left: number;
  plotLeft: number;
  plotRight: number;
  domain: [number, number];
  dateDy: number;
}

interface LegendItem {
  text: string[];
  color: string;
  mark: "line" | "dot" | "none";
}
interface LegendSpec {
  x: number;
  y: number;
  w: number;
  h: number;
  items: LegendItem[];
  big?: boolean;
  clear?: boolean;
}

// helpers that turn the lists above into drawable point sets
const bands = (segs: Band[][], color: string): Series[] =>
  segs.map((data) => ({ kind: "band", data, color }));

const spanBands = (spans: Span[], lo: number, hi: number): Band[][] =>
  spans.map(([a, b]) => [[a, lo, hi], [b, lo, hi]]);

const dipLine = (base: number, dips: Pt[], from: number, to: number): Pt[] => {
  const out: Pt[] = [[from, base]];
  dips.forEach(([t, v]) => {
    out.push([t - 0.003, base], [t, v], [t + 0.003, base]);
  });
  out.push([to, base]);
  return out;
};

const gapLine = (above: number, gaps: Pt[]): Pt[] => {
  const out: Pt[] = [];
  gaps.forEach(([t, v]) => {
    out.push([t, above], [t, v], [t + 0.001, above]);
  });
  return out;
};

// ---------- panel layouts
const LEFT_COL: ColumnSpec = { left: 0, plotLeft: 101, plotRight: 734, domain: [-1.0245, 7.945], dateDy: 50 };
const RIGHT_COL: ColumnSpec = { left: 902, plotLeft: 1003, plotRight: 1636, domain: [-1.0, 7.97], dateDy: 47 };

const leftPanels: PanelSpec[] = [
  {
    top: 176, bottom: 232, domain: [0, 44800], major: [0, 10000, 20000, 30000, 40000], minor: 2000,
    dashedBase: true, series: [{ kind: "line", data: lumi, color: COLOR.lumi }],
  },
  {
    top: 232, bottom: 289, domain: [0, 1718], major: [0, 500, 1000, 1500], minor: 100, dashedBase: true,
    series: [
      { kind: "line", data: lerCurrent, color: COLOR.ler },
      { kind: "line", data: herCurrent, color: COLOR.her },
    ],
  },
  {
    top: 289, bottom: 345, domain: [-0.5, 16.3], major: [0, 5, 10, 15], minor: 1,
    series: [{ kind: "line", data: lerRep, color: COLOR.repLer, step: true }],
  },
  {
    top: 345, bottom: 402, domain: [-0.17, 3.4], major: [0, 1, 2, 3], minor: 0.2,
    series: [
      ...bands(qLerBlue, COLOR.qBlue),
      ...bands(qLerGreen, COLOR.qGreen),
      { kind: "dots", data: qLerStray, color: COLOR.qBlue },
    ],
  },
  {
    top: 402, bottom: 457, domain: [-0.1, 4.13], major: [0, 1, 2, 3, 4], minor: 0.2,
    series: bands(injLer, COLOR.inj),
  },
  {
    top: 457, bottom: 514, domain: [-1.4, 111], major: [0, 20, 40, 60, 80, 100], minor: 4,
    series: bands(effLer, COLOR.eff),
  },
  {
    top: 514, bottom: 597, domain: [0, 15550], major: [0, 5000, 10000, 15000], minor: 1000,
    series: [
      ...bands(eclBw, COLOR.ecl),
      { kind: "line", data: gapLine(17000, eclBwGaps), color: "#fff", width: 1.2 },
    ],
  },
  {
    top: 597, bottom: 677, domain: [-0.2, 30.1], major: [0, 5, 10, 15, 20, 25, 30], minor: 1,
    series: [
      { kind: "line", data: eclBgLerStart, color: COLOR.eclBg, width: 1 },
      { kind: "band", data: eclBgLerPre, color: COLOR.eclBg },
      { kind: "line", data: eclBgLerSpikes, color: COLOR.eclBg, width: 1 },
      { kind: "band", data: eclBgLerMain, color: COLOR.eclBg },
      { kind: "line", data: dipLine(23, eclBgLerDips, -0.08, 7.945), color: COLOR.eclBg, width: 1.5 },
    ],
  },
  {
    top: 677, bottom: 758, domain: [0, 4.065], major: [0, 1, 2, 3, 4], minor: 0.2,
    series: [
      ...topLer.map((data): Series => ({ kind: "line", data, color: COLOR.top, width: 1.2 })),
      { kind: "band", data: topLerBlob, color: COLOR.top },
    ],
  },
  {
    top: 758, bottom: 838, domain: [0, 300], major: [0, 50, 100, 150, 200, 250, 300], minor: 10,
    series: [...bands(cdcAv, COLOR.cdcAv), ...bands(cdc, COLOR.cdc)],
  },
  {
    top: 838, bottom: 918, domain: [0, 50], major: [0, 10, 20, 30, 40, 50], minor: 2,
    series: bands(diamond, COLOR.diamond),
  },
  {
    top: 918, bottom: 999, domain: [0, 657], major: [0, 100, 200, 300, 400, 500, 600], minor: 20,
    series: [...bands(vxdFw135, COLOR.ler), ...bands(vxdFw225, COLOR.her)],
  },
];

const rightPanels: PanelSpec[] = [
  {
    top: 53, bottom: 112, domain: [0, 44500], major: [0, 10000, 20000, 30000, 40000], minor: 2000,
    dashedBase: true, series: [{ kind: "line", data: lumi, color: COLOR.lumi }],
  },
  {
    top: 112, bottom: 172, domain: [-17, 1727], major: [0, 500, 1000, 1500], minor: 100, dashedBase: true,
    series: [
      { kind: "line", data: lerCurrent, color: COLOR.ler },
      { kind: "line", data: herCurrent, color: COLOR.her },
    ],
  },
  {
    top: 172, bottom: 231, domain: [-0.3, 13.2], major: [0, 5, 10], minor: 1, dashedBase: true,
    series: [{ kind: "line", data: herRep, color: COLOR.repHer, step: true }],
  },
  {
    top: 231, bottom: 291, domain: [-0.1, 2.4], major: [0, 0.5, 1, 1.5, 2], minor: 0.1,
    series: [
      ...bands(qHerBlue, COLOR.qBlue),
      ...bands(qHerGreen, COLOR.qGreen),
      ...bands(spanBands(qHerLowSpans, -0.02, 0.1), COLOR.qGreen),
      { kind: "dots", data: qHerStray, color: COLOR.qBlue },
    ],
  },
  {
    top: 291, bottom: 350, domain: [-0.11, 2.35], major: [0, 0.5, 1, 1.5, 2], minor: 0.1,
    series: bands(injHer, COLOR.inj),
  },
  {
    top: 350, bottom: 411, domain: [-2.6, 109], major: [0, 20, 40, 60, 80, 100], minor: 4,
    series: bands(effHer, COLOR.eff),
  },
  {
    top: 411, bottom: 499, domain: [0, 5175], major: [0, 1000, 2000, 3000, 4000, 5000], minor: 200,
    series: [
      ...bands(eclFw, COLOR.ecl),
      { kind: "line", data: gapLine(5600, eclFwGaps), color: "#fff", width: 1.2 },
    ],
  },
  {
    top: 499, bottom: 584, domain: [0, 20.4], major: [0, 5, 10, 15, 20], minor: 1,
    series: [
      { kind: "line", data: eclBgHerStart, color: COLOR.eclBg, width: 1.2 },
      { kind: "line", data: dipLine(20, eclBgHerDips, -0.1, 7.97), color: COLOR.eclBg, width: 1.9 },
    ],
  },
  {
    top: 584, bottom: 669, domain: [0, 4.99], major: [0, 1, 2, 3, 4], minor: 0.2,
    series: [{ kind: "line", data: srFw, color: COLOR.srFw, width: 1.2 }],
  },
  {
    top: 669, bottom: 754, domain: [0, 4.05], major: [0, 1, 2, 3, 4], minor: 0.2,
    series: [
      ...topHer.map((data): Series => ({ kind: "line", data, color: COLOR.top, width: 1.2 })),
      { kind: "band", data: topHerBlob, color: COLOR.top },
    ],
  },
  {
    top: 754, bottom: 840, domain: [0, 300], major: [0, 50, 100, 150, 200, 250, 300], minor: 10,
    series: [...bands(cdcAv, COLOR.cdcAv), ...bands(cdc, COLOR.cdc)],
  },
  {
    top: 840, bottom: 925, domain: [0, 50], major: [0, 10, 20, 30, 40, 50], minor: 2,
    series: bands(diamond, COLOR.diamond),
  },
  {
    top: 925, bottom: 1010, domain: [0, 48000], major: [0, 10000, 20000, 30000, 40000], minor: 2000,
    series: [
      { kind: "band", data: vxdBw270, color: COLOR.her },
      { kind: "dots", data: vxdBw180, color: COLOR.ler, size: 3 },
    ],
  },
];

// legends: one per panel, starting with the second panel
const leftLegends: LegendSpec[] = [
  { x: 795, y: 248, w: 86, h: 47, items: [
    { text: ["LER"], color: COLOR.ler, mark: "line" },
    { text: ["HER"], color: COLOR.her, mark: "line" },
  ] },
  { x: 780, y: 300, w: 101, h: 39, big: true, items: [{ text: ["LER"], color: COLOR.repLer, mark: "line" }] },
  { x: 733, y: 361, w: 148, h: 46, items: [
    { text: ["QMD11P_1(nC)"], color: COLOR.qBlue, mark: "dot" },
    { text: ["QMD11P_2(nC)"], color: COLOR.qGreen, mark: "dot" },
  ] },
  { x: 769, y: 417, w: 112, h: 29, items: [{ text: ["Inj.Rate"], color: COLOR.inj, mark: "dot" }] },
  { x: 724, y: 473, w: 157, h: 65, clear: true, items: [
    { text: ["Inj.Eff(BCM1)"], color: "#000", mark: "dot" },
    { text: ["Inj.Eff(BCM2)"], color: "#888", mark: "dot" },
    { text: ["Inj.Eff"], color: COLOR.eff, mark: "none" },
  ] },
  { x: 768, y: 533, w: 113, h: 28, items: [{ text: ["ECL_BW"], color: COLOR.ecl, mark: "line" }] },
  { x: 750, y: 604, w: 131, h: 47, items: [{ text: ["ECL BG", "Duration"], color: COLOR.eclBg, mark: "line" }] },
  { x: 750, y: 693, w: 131, h: 29, items: [{ text: ["TOP [Hz]"], color: COLOR.top, mark: "line" }] },
  { x: 768, y: 774, w: 113, h: 46, items: [
    { text: ["CDC"], color: COLOR.cdc, mark: "line" },
    { text: ["CDC_av"], color: COLOR.cdcAv, mark: "line" },
  ] },
  { x: 759, y: 854, w: 122, h: 29, items: [{ text: ["Diamond"], color: COLOR.diamond, mark: "line" }] },
  { x: 741, y: 934, w: 140, h: 46, items: [
    { text: ["VXD_FW225"], color: COLOR.her, mark: "line" },
    { text: ["VXD_FW135"], color: COLOR.ler, mark: "line" },
  ] },
];

const rightLegends: LegendSpec[] = [
  { x: 1697, y: 129, w: 85, h: 46, items: [
    { text: ["LER"], color: COLOR.ler, mark: "line" },
    { text: ["HER"], color: COLOR.her, mark: "line" },
  ] },
  { x: 1682, y: 184, w: 100, h: 38, big: true, items: [{ text: ["HER"], color: COLOR.repHer, mark: "line" }] },
  { x: 1644, y: 247, w: 138, h: 46, items: [
    { text: ["QMD8E_1(nC)"], color: COLOR.qBlue, mark: "dot" },
    { text: ["QMD8E_2(nC)"], color: COLOR.qGreen, mark: "dot" },
  ] },
  { x: 1671, y: 307, w: 111, h: 28, items: [{ text: ["Inj.Rate"], color: COLOR.inj, mark: "dot" }] },
  { x: 1626, y: 367, w: 156, h: 63, clear: true, items: [
    { text: ["Inj.Eff(BCM1)"], color: "#000", mark: "dot" },
    { text: ["Inj.Eff(BCM2)"], color: "#888", mark: "dot" },
    { text: ["Inj.Eff"], color: COLOR.eff, mark: "none" },
  ] },
  { x: 1670, y: 432, w: 112, h: 26, items: [{ text: ["ECL_FW"], color: COLOR.ecl, mark: "line" }] },
  { x: 1652, y: 507, w: 130, h: 45, items: [{ text: ["ECL BG", "Duration"], color: COLOR.eclBg, mark: "line" }] },
  { x: 1679, y: 601, w: 103, h: 45, items: [
    { text: ["SR_FW"], color: COLOR.srFw, mark: "line" },
    { text: ["SR_BW"], color: COLOR.srBw, mark: "line" },
  ] },
  { x: 1652, y: 685, w: 130, h: 28, items: [{ text: ["TOP [Hz]"], color: COLOR.top, mark: "line" }] },
  { x: 1670, y: 770, w: 112, h: 46, items: [
    { text: ["CDC"], color: COLOR.cdc, mark: "line" },
    { text: ["CDC_av"], color: COLOR.cdcAv, mark: "line" },
  ] },
  { x: 1661, y: 857, w: 121, h: 27, items: [{ text: ["Diamond"], color: COLOR.diamond, mark: "line" }] },
  { x: 1643, y: 942, w: 139, h: 45, items: [
    { text: ["VXD_BW180"], color: COLOR.ler, mark: "line" },
    { text: ["VXD_BW270"], color: COLOR.her, mark: "line" },
  ] },
];

// rotated axis titles
type Title = { x: number; y: number; text: string; bold?: boolean; end?: boolean; sans?: boolean };
const titles: Title[] = [
  { x: 51, y: 203, text: "Luminosity", sans: true },
  { x: 58, y: 260, text: "I[mA]" },
  { x: 59, y: 290, text: "Rep.", end: true },
  { x: 74, y: 290, text: "Rate[Hz]", end: true },
  { x: 83, y: 373, text: "Q[nC]" },
  { x: 83, y: 428, text: "[mA/s]" },
  { x: 66, y: 484, text: "[%]" },
  { x: 44, y: 557, text: "ECL_BW", bold: true },
  { x: 71, y: 637, text: "[ms]", bold: true },
  { x: 82, y: 718, text: "[Hz]" },
  { x: 63, y: 797, text: "[uA]", bold: true },
  { x: 71, y: 877, text: "[mRad/s]", bold: true },
  { x: 67, y: 958, text: "VXD", bold: true },
  { x: 953, y: 81, text: "Luminosity", sans: true },
  { x: 960.5, y: 141.5, text: "I[mA]" },
  { x: 961, y: 175.7, text: "Rep.", end: true },
  { x: 976.7, y: 175.7, text: "Rate[Hz]", end: true },
  { x: 969, y: 247, text: "Q[nC]" },
  { x: 969, y: 318, text: "[mA/s]" },
  { x: 968, y: 377.5, text: "[%]" },
  { x: 956, y: 457, text: "ECL_FW", bold: true },
  { x: 973, y: 542, text: "[ms]", bold: true },
  { x: 971.7, y: 627, text: "Photon" },
  { x: 986.7, y: 627, text: "Rate" },
  { x: 983, y: 712, text: "[Hz]" },
  { x: 964, y: 796, text: "[uA]", bold: true },
  { x: 973, y: 882, text: "[mRad/s]", bold: true },
  { x: 950.5, y: 966, text: "VXD" },
];
const exponents = [
  { x: 37, y: 697, exp: "6" },
  { x: 939, y: 601.7, exp: "5" },
  { x: 939, y: 686.7, exp: "6" },
];

// ---------- rendering
const near = (a: number, b: number) => Math.abs(a - b) < 1e-6;

function HourLabel({ x, y, hour, dateDy }: { x: number; y: number; hour: number; dateDy: number }) {
  const parts = HOUR_PARTS[hour] || [[String(hour), "h"]];
  const start = hour === -1 ? x - 20 : hour === 0 ? x - 16 : x - 11;
  const date = DATE_LABELS[hour];
  return (
    <g style={{ fontFamily: SANS }} fill="#000">
      <text x={start} y={y + 27} fontSize={19}>
        {parts.map(([main, sup], i) => (
          <React.Fragment key={i}>
            <tspan dy={i === 0 ? 0 : 9}>{main}</tspan>
            <tspan dy={-9} fontSize={13}>{sup}</tspan>
          </React.Fragment>
        ))}
      </text>
      {date && (
        <text x={hour === -1 ? x - 56 : x - 27} y={y + dateDy} fontSize={20.5}>
          {date}
        </text>
      )}
    </g>
  );
}

// hour ticks carry the grid; the 20-minute ticks are drawn alongside each hour tick
function makeXTick(withLabels: boolean, pxPerHour: number, col: ColumnSpec) {
  return (p: any) => {
    const v = p.payload.value;
    const minors = [1 / 3, 2 / 3].filter((f) => v + f <= col.domain[1] + 1e-9);
    return (
      <g>
        <line x1={p.x} x2={p.x} y1={p.y} y2={p.y - 10} stroke="#000" strokeWidth={1} />
        {minors.map((f) => (
          <line
            key={f}
            x1={p.x + f * pxPerHour}
            x2={p.x + f * pxPerHour}
            y1={p.y}
            y2={p.y - 5}
            stroke="#000"
            strokeWidth={1}
          />
        ))}
        {withLabels && <HourLabel x={p.x} y={p.y} hour={Math.round(v)} dateDy={col.dateDy} />}
      </g>
    );
  };
}

// labelled ticks carry the grid; the finer ticks are filled in between them
function makeYTick(spec: PanelSpec, pxPerUnit: number) {
  const majors = [...spec.major].sort((a, b) => a - b);
  return (p: any) => {
    const v = p.payload.value;
    const idx = majors.findIndex((m) => near(m, v));
    const isLast = idx === majors.length - 1;
    const limit = isLast ? spec.domain[1] + 1e-9 : majors[idx + 1] - 1e-9;
    const minors: number[] = [];
    for (let k = 1; v + k * spec.minor <= limit; k++) minors.push(p.y - k * spec.minor * pxPerUnit);
    if (idx === 0) {
      for (let k = 1; v - k * spec.minor >= spec.domain[0] - 1e-9; k++) minors.push(p.y + k * spec.minor * pxPerUnit);
    }
    return (
      <g>
        <line x1={p.x} x2={p.x + 20} y1={p.y} y2={p.y} stroke="#000" strokeWidth={1} />
        {minors.map((my, i) => (
          <line key={i} x1={p.x} x2={p.x + 7} y1={my} y2={my} stroke="#000" strokeWidth={1} />
        ))}
        <text
          x={p.x - 1}
          y={p.y}
          textAnchor="end"
          dominantBaseline="central"
          fontSize={13.5}
          fill="#000"
          style={{ fontFamily: MONO }}
        >
          {String(Number(v.toFixed(4)))}
        </text>
      </g>
    );
  };
}

function renderSeries(s: Series, i: number) {
  if (s.kind === "line") {
    const rows = s.data.map(([t, v]) => ({ t, v }));
    return (
      <Line
        key={i}
        data={rows}
        dataKey="v"
        type={s.step ? "stepAfter" : "linear"}
        stroke={s.color}
        strokeWidth={s.width ?? 1.4}
        dot={false}
        activeDot={false}
        isAnimationActive={false}
      />
    );
  }
  if (s.kind === "band") {
    const rows = s.data.map(([t, lo, hi]) => ({ t, r: [lo, hi] }));
    return (
      <Area
        key={i}
        data={rows}
        dataKey="r"
        type="linear"
        stroke={s.color}
        strokeWidth={1}
        fill={s.color}
        fillOpacity={1}
        dot={false}
        activeDot={false}
        isAnimationActive={false}
      />
    );
  }
  const size = s.size ?? 3;
  const rows = s.data.map(([t, v]) => ({ t, v }));
  return (
    <Scatter
      key={i}
      data={rows}
      dataKey="v"
      fill={s.color}
      isAnimationActive={false}
      shape={(p: any) => (
        <rect x={p.cx - size / 2} y={p.cy - size / 2} width={size} height={size} fill={s.color} />
      )}
    />
  );
}

function Panel({ spec, col, last }: { spec: PanelSpec; col: ColumnSpec; last: boolean }) {
  const h = spec.bottom - spec.top;
  const axisH = last ? 60 : 0;
  const width = col.plotRight + 2 - col.left;
  const pxPerHour = (col.plotRight - col.plotLeft) / (col.domain[1] - col.domain[0]);
  const pxPerUnit = h / (spec.domain[1] - spec.domain[0]);
  const hourTicks = HOURS.filter((v) => v >= col.domain[0] - 1e-9 && v <= col.domain[1]);
  return (
    <div style={{ position: "absolute", left: col.left, top: spec.top }}>
      <ComposedChart width={width} height={h + axisH} margin={{ top: 0, right: 2, bottom: 0, left: 0 }}>
        <CartesianGrid stroke="#a0a0a0" strokeDasharray="3 3" />
        <XAxis
          type="number"
          dataKey="t"
          domain={col.domain}
          allowDataOverflow
          ticks={hourTicks}
          interval={0}
          height={axisH}
          tickSize={0}
          tickMargin={0}
          tickLine={false}
          axisLine={{ stroke: "#000", strokeWidth: 1, strokeDasharray: spec.dashedBase ? "3 2" : undefined }}
          tick={makeXTick(last, pxPerHour, col)}
        />
        <YAxis
          type="number"
          domain={spec.domain}
          allowDataOverflow
          ticks={spec.major}
          interval={0}
          width={col.plotLeft - col.left}
          tickSize={0}
          tickMargin={0}
          tickLine={false}
          axisLine={false}
          tick={makeYTick(spec, pxPerUnit)}
        />
        {spec.series.map(renderSeries)}
      </ComposedChart>
    </div>
  );
}

function LegendBox({ spec }: { spec: LegendSpec }) {
  const rowH = spec.big ? 30 : 17.8;
  const lines = spec.items.reduce((n, it) => n + it.text.length, 0);
  let cursor = (spec.h - 2) / 2 - (lines * rowH) / 2;
  return (
    <div
      style={{
        position: "absolute",
        left: spec.x,
        top: spec.y,
        width: spec.w,
        height: spec.h,
        boxSizing: "border-box",
        border: "1px solid #000",
        background: spec.clear ? "transparent" : "#fff",
        boxShadow: "2px 2px 0 #000",
      }}
    >
      {spec.items.map((it, i) => {
        const top = cursor;
        const hh = it.text.length * rowH;
        cursor += hh;
        const cy = top + hh / 2;
        const textLeft = it.mark === "dot" || it.mark === "none" ? 32 : spec.big ? 52 : 51;
        return (
          <React.Fragment key={i}>
            {it.mark === "line" && (
              <div style={{ position: "absolute", left: 6, top: cy - 0.5, width: 40, height: 1.2, background: it.color }} />
            )}
            {it.mark === "dot" && (
              <div
                style={{
                  position: "absolute",
                  left: 6,
                  top: cy - 2.5,
                  width: 5,
                  height: 5,
                  borderRadius: "50%",
                  background: it.color,
                }}
              />
            )}
            <div
              style={{
                position: "absolute",
                left: textLeft,
                top,
                lineHeight: `${rowH}px`,
                fontFamily: spec.big ? "'DejaVu Sans Condensed', 'DejaVu Sans', sans-serif" : MONO,
                fontSize: spec.big ? 25 : 14.5,
                whiteSpace: "pre",
                color: "#000",
              }}
            >
              {it.text.map((t) => (
                <div key={t}>{t}</div>
              ))}
            </div>
          </React.Fragment>
        );
      })}
    </div>
  );
}

function Column({ col, panels, legends }: { col: ColumnSpec; panels: PanelSpec[]; legends: LegendSpec[] }) {
  const top = panels[0].top;
  const bottom = panels[panels.length - 1].bottom;
  return (
    <>
      {panels.map((p, i) => (
        <React.Fragment key={i}>
          <Panel spec={p} col={col} last={i === panels.length - 1} />
          {i > 0 && legends[i - 1] && <LegendBox spec={legends[i - 1]} />}
        </React.Fragment>
      ))}
      <div
        style={{
          position: "absolute",
          left: col.plotLeft,
          top,
          width: col.plotRight - col.plotLeft + 1,
          height: bottom - top,
          boxSizing: "border-box",
          borderTop: "1px solid #000",
          borderLeft: "2px solid #000",
          borderRight: "1px solid #000",
          pointerEvents: "none",
        }}
      />
    </>
  );
}

function Titles() {
  return (
    <svg width={1806} height={1062} style={{ position: "absolute", left: 0, top: 0, pointerEvents: "none" }}>
      {titles.map((t, i) => (
        <text
          key={i}
          transform={`translate(${t.x},${t.y}) rotate(-90)`}
          textAnchor={t.end ? "end" : "middle"}
          dominantBaseline="central"
          fontSize={t.sans ? 12.5 : t.bold ? 13 : 11.5}
          fontWeight={t.bold ? "bold" : "normal"}
          style={{ fontFamily: t.sans ? SANS : MONO }}
          fill="#000"
        >
          {t.text}
        </text>
      ))}
      {exponents.map((e, i) => (
        <text key={`e${i}`} x={e.x} y={e.y} fontSize={14} style={{ fontFamily: SANS }} fill="#000">
          x10
          <tspan dy={-7} fontSize={10}>
            {e.exp}
          </tspan>
        </text>
      ))}
    </svg>
  );
}

export default function App() {
  return (
    <div
      style={{
        position: "fixed",
        left: 0,
        top: 0,
        width: 1806,
        height: 1062,
        background: "#fff",
        overflow: "hidden",
      }}
    >
      <style>{`.recharts-surface{overflow:visible !important}.recharts-wrapper{overflow:visible !important}`}</style>
      <div style={{ position: "absolute", left: 0, top: 0, width: 1, height: 1062, background: "#9a9a9a" }} />
      <div style={{ position: "absolute", left: 902, top: 0, width: 2, height: 1062, background: "#d9d9d9" }} />
      <div style={{ position: "absolute", left: 1804, top: 0, width: 1, height: 1062, background: "#9a9a9a" }} />
      <Column col={LEFT_COL} panels={leftPanels} legends={leftLegends} />
      <Column col={RIGHT_COL} panels={rightPanels} legends={rightLegends} />
      <Titles />
    </div>
  );
}
